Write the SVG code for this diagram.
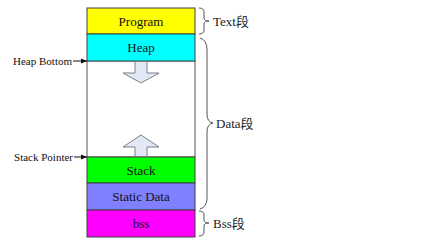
<svg xmlns="http://www.w3.org/2000/svg" width="427" height="241" viewBox="0 0 427 241">
  <style>
    .seg { stroke: #404040; stroke-width: 1; }
    .lbl { font-family: "Liberation Serif", "Noto Sans CJK SC", serif; font-size: 13px; fill: #111; text-anchor: middle; }
    .side { font-family: "Liberation Serif", "Noto Sans CJK SC", serif; font-size: 13px; fill: #222; }
    .ptr { font-family: "Liberation Serif", serif; font-size: 11px; fill: #111; text-anchor: end; }
    .brace { fill: none; stroke: #555; stroke-width: 1; }
    .bigarrow { fill: #e2e9f5; stroke: #7a7f88; stroke-width: 1; }
    .wire { stroke: #111; stroke-width: 1; fill: none; }
  </style>
  <defs>
    <marker id="tip" viewBox="0 0 10 10" refX="10" refY="5" markerWidth="6" markerHeight="6" orient="auto">
      <path d="M0,1 L10,5 L0,9 z" fill="#111"/>
    </marker>
  </defs>
  <rect width="427" height="241" fill="#fff"/>

  <!-- memory column -->
  <rect x="87" y="61" width="108" height="96" fill="#fff" stroke="#555"/>
  <g id="program"><rect class="seg" x="87" y="8" width="108" height="26" fill="#ffff00"/><text class="lbl" x="141" y="25.5">Program</text></g>
  <g id="heap"><rect class="seg" x="87" y="34" width="108" height="27" fill="#00ffff"/><text class="lbl" x="141" y="52">Heap</text></g>
  <g id="stack"><rect class="seg" x="87" y="157" width="108" height="26" fill="#00ff00"/><text class="lbl" x="141" y="174.5">Stack</text></g>
  <g id="static-data"><rect class="seg" x="87" y="183" width="108" height="27" fill="#8080ff"/><text class="lbl" x="141" y="201">Static Data</text></g>
  <g id="bss"><rect class="seg" x="87" y="210" width="108" height="27" fill="#ff00ff"/><text class="lbl" x="141" y="228">bss</text></g>

  <!-- growth arrows -->
  <g id="heap-growth"><path class="bigarrow" d="M135,61.5 L147,61.5 L147,73 L159,73 L141,83 L123,73 L135,73 z"/></g>
  <g id="stack-growth"><path class="bigarrow" d="M135,156.5 L147,156.5 L147,147 L159,147 L141,135 L123,147 L135,147 z"/></g>

  <!-- pointer labels -->
  <g id="heap-bottom"><text class="ptr" x="72" y="64.5">Heap Bottom</text></g>
  <g id="stack-pointer"><text class="ptr" x="73" y="160.5">Stack Pointer</text></g>

  <!-- segment braces -->
  <g id="text-seg">
    <path class="brace" d="M199,8 Q204,8 204,12 L204,18 Q204,21 209,21 Q204,21 204,24 L204,30 Q204,34 199,34"/>
    <text class="side" x="213" y="25.5">Text段</text>
  </g>
  <g id="data-seg">
    <path class="brace" d="M200,38 Q207,40 207,50 L207,114 Q207,122 213,123 Q207,124 207,132 L207,198 Q207,207 200,209"/>
    <text class="side" x="216" y="128">Data段</text>
  </g>
  <g id="bss-seg">
    <path class="brace" d="M199,211 Q204,211 204,215 L204,220 Q204,223 209,223 Q204,223 204,226 L204,232 Q204,236 199,236"/>
    <text class="side" x="213" y="228">Bss段</text>
  </g>

  <g id="connectors">
    <line class="wire" x1="73" y1="61" x2="87" y2="61" marker-end="url(#tip)"/>
    <line class="wire" x1="74" y1="157" x2="87" y2="157" marker-end="url(#tip)"/>
  </g>
</svg>
